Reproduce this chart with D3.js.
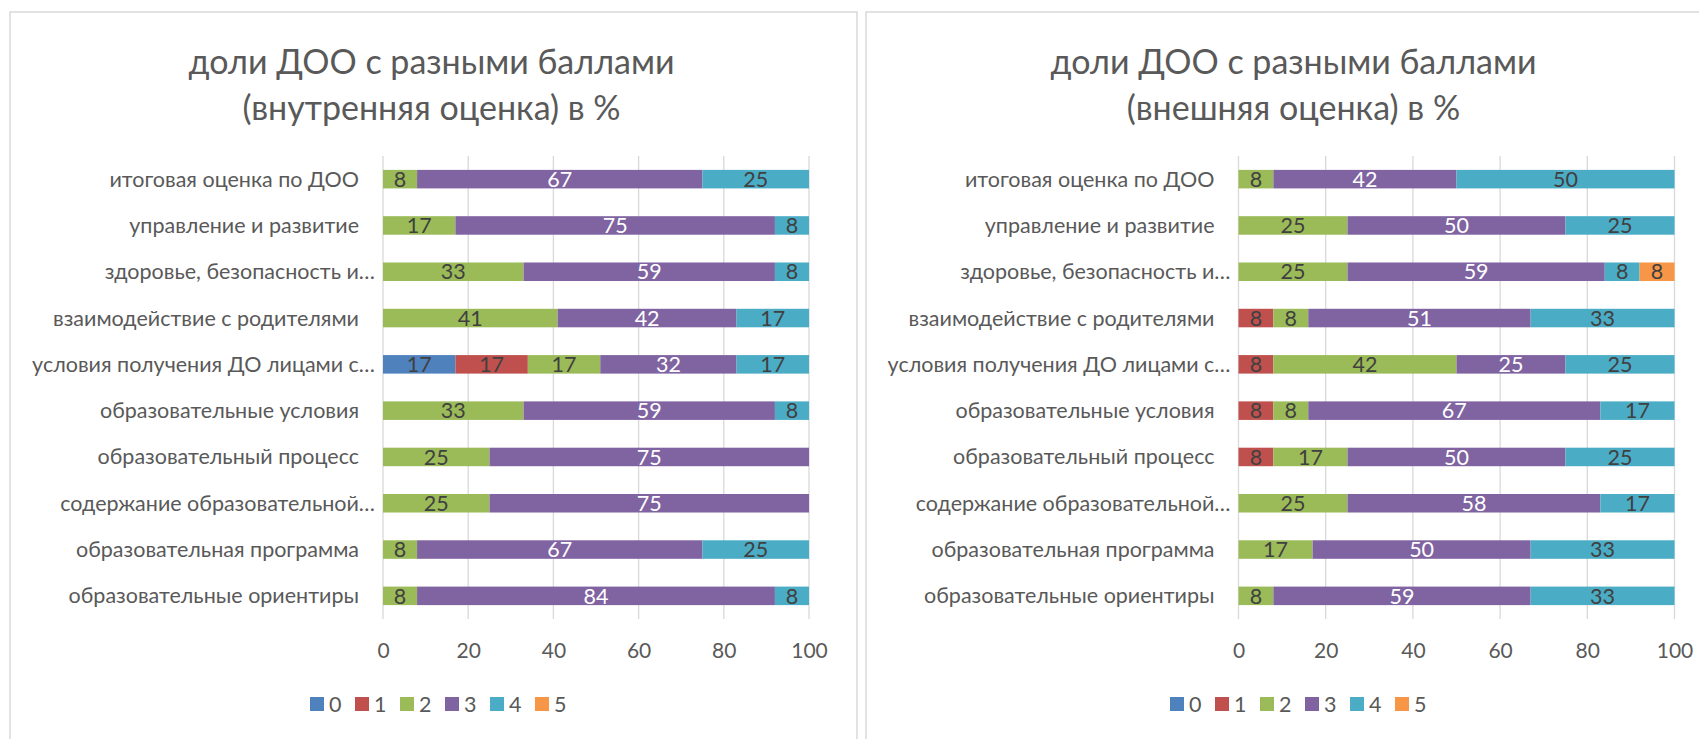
<!DOCTYPE html>
<html>
<head>
<meta charset="utf-8">
<script src="https://cdn.jsdelivr.net/npm/d3@7"></script>
<style>
  html, body { margin: 0; padding: 0; background: #fff; }
  svg { display: block; }
  text { font-family: Lato, "Open Sans", "Noto Sans", sans-serif; }
</style>
</head>
<body>
<svg id="chart" width="1699" height="739"></svg>
<script>
// ---- data ----
const categories = [
  "итоговая оценка по ДОО",
  "управление и развитие",
  "здоровье, безопасность и…",
  "взаимодействие с родителями",
  "условия получения ДО лицами с…",
  "образовательные условия",
  "образовательный процесс",
  "содержание образовательной…",
  "образовательная программа",
  "образовательные ориентиры"
];
const seriesNames = ["0", "1", "2", "3", "4", "5"];
const ticks = [0, 20, 40, 60, 80, 100];

const titleInternal = ["доли ДОО с разными баллами", "(внутренняя оценка) в %"];
const titleExternal = ["доли ДОО с разными баллами", "(внешняя оценка) в %"];

// internal assessment, one array per score, in category order (top to bottom)
const int0 = [0, 0, 0, 0, 17, 0, 0, 0, 0, 0];
const int1 = [0, 0, 0, 0, 17, 0, 0, 0, 0, 0];
const int2 = [8, 17, 33, 41, 17, 33, 25, 25, 8, 8];
const int3 = [67, 75, 59, 42, 32, 59, 75, 75, 67, 84];
const int4 = [25, 8, 8, 17, 17, 8, 0, 0, 25, 8];
const int5 = [0, 0, 0, 0, 0, 0, 0, 0, 0, 0];

// external assessment
const ext0 = [0, 0, 0, 0, 0, 0, 0, 0, 0, 0];
const ext1 = [0, 0, 0, 8, 8, 8, 8, 0, 0, 0];
const ext2 = [8, 25, 25, 8, 42, 8, 17, 25, 17, 8];
const ext3 = [42, 50, 59, 51, 25, 67, 50, 58, 50, 59];
const ext4 = [50, 25, 8, 33, 25, 17, 25, 17, 33, 33];
const ext5 = [0, 0, 8, 0, 0, 0, 0, 0, 0, 0];

// ---- styles ----
const colors = ["#4F81BD", "#C0504D", "#9BBB59", "#8064A2", "#4BACC6", "#F79646"];
const labelColors = ["#404040", "#404040", "#404040", "#ffffff", "#404040", "#404040"];
const textColor = "#595959";

const svg = d3.select("#chart");

function buildRows(series) {
  return categories.map((c, i) => {
    const row = { cat: c };
    seriesNames.forEach((s, k) => row[s] = series[k][i]);
    return row;
  });
}

function drawPanel(cfg) {
  const g = svg.append("g");
  // panel border
  g.append("rect")
    .attr("x", cfg.px0).attr("y", 12)
    .attr("width", cfg.px1 - cfg.px0).attr("height", 800)
    .attr("fill", "#fff").attr("stroke", "#d9d9d9").attr("stroke-width", 1.5);

  // title
  const t = g.append("text")
    .attr("text-anchor", "middle")
    .attr("fill", textColor)
    .style("font-size", "34px");
  cfg.title.forEach((line, i) => {
    t.append("tspan").attr("x", cfg.titleX).attr("y", 74 + i * 46).text(line);
  });

  const x = d3.scaleLinear().domain([0, 100]).range([cfg.x0, cfg.x1]);
  const y = d3.scaleBand().domain(categories).range([156, 619])
    .paddingInner(0.6).paddingOuter(0.3);

  // gridlines
  g.append("g").selectAll("line").data(ticks).join("line")
    .attr("x1", d => x(d)).attr("x2", d => x(d))
    .attr("y1", 156).attr("y2", 619)
    .attr("stroke", "#d9d9d9").attr("stroke-width", 1.3);

  // x axis tick labels
  const ax = g.append("g").attr("transform", `translate(0,619)`)
    .call(d3.axisBottom(x).tickValues(ticks).tickSize(0).tickPadding(0));
  ax.select(".domain").remove();
  ax.selectAll("text")
    .attr("y", 39).attr("dy", null)
    .attr("fill", textColor)
    .style("font-size", "21px");

  // category labels
  g.append("g").selectAll("text").data(categories).join("text")
    .attr("x", d => x(0) - (d.endsWith("…") ? 8 : 24))
    .attr("y", d => y(d) + y.bandwidth() / 2)
    .attr("dy", "0.35em")
    .attr("text-anchor", "end")
    .attr("fill", textColor)
    .style("font-size", "21.5px")
    .text(d => d);

  // stacked bars
  const rows = buildRows(cfg.series);
  const stack = d3.stack().keys(seriesNames)(rows);
  stack.forEach((layer, k) => {
    const lg = g.append("g");
    lg.selectAll("rect").data(layer).join("rect")
      .attr("x", d => x(d[0]))
      .attr("y", d => y(d.data.cat))
      .attr("width", d => x(d[1]) - x(d[0]))
      .attr("height", y.bandwidth())
      .attr("fill", colors[k]);
    lg.selectAll("text").data(layer.filter(d => d[1] - d[0] > 0)).join("text")
      .attr("x", d => (x(d[0]) + x(d[1])) / 2)
      .attr("y", d => y(d.data.cat) + y.bandwidth() / 2)
      .attr("dy", "0.36em")
      .attr("text-anchor", "middle")
      .attr("fill", labelColors[k])
      .style("font-size", "21.5px")
      .text(d => d[1] - d[0]);
  });

  // legend
  const leg = g.append("g").attr("transform", `translate(${cfg.legendX},697)`);
  seriesNames.forEach((s, k) => {
    const it = leg.append("g").attr("transform", `translate(${k * 45},0)`);
    it.append("rect").attr("width", 14).attr("height", 14).attr("fill", colors[k]);
    it.append("text").attr("x", 19).attr("y", 7).attr("dy", "0.36em")
      .attr("fill", textColor).style("font-size", "21.5px").text(s);
  });
}

drawPanel({
  px0: 10, px1: 857, titleX: 431.5, x0: 383, x1: 809, legendX: 310,
  title: titleInternal,
  series: [int0, int1, int2, int3, int4, int5]
});
drawPanel({
  px0: 866, px1: 1724, titleX: 1293.5, x0: 1238.5, x1: 1674.5, legendX: 1170,
  title: titleExternal,
  series: [ext0, ext1, ext2, ext3, ext4, ext5]
});
</script>
</body>
</html>
